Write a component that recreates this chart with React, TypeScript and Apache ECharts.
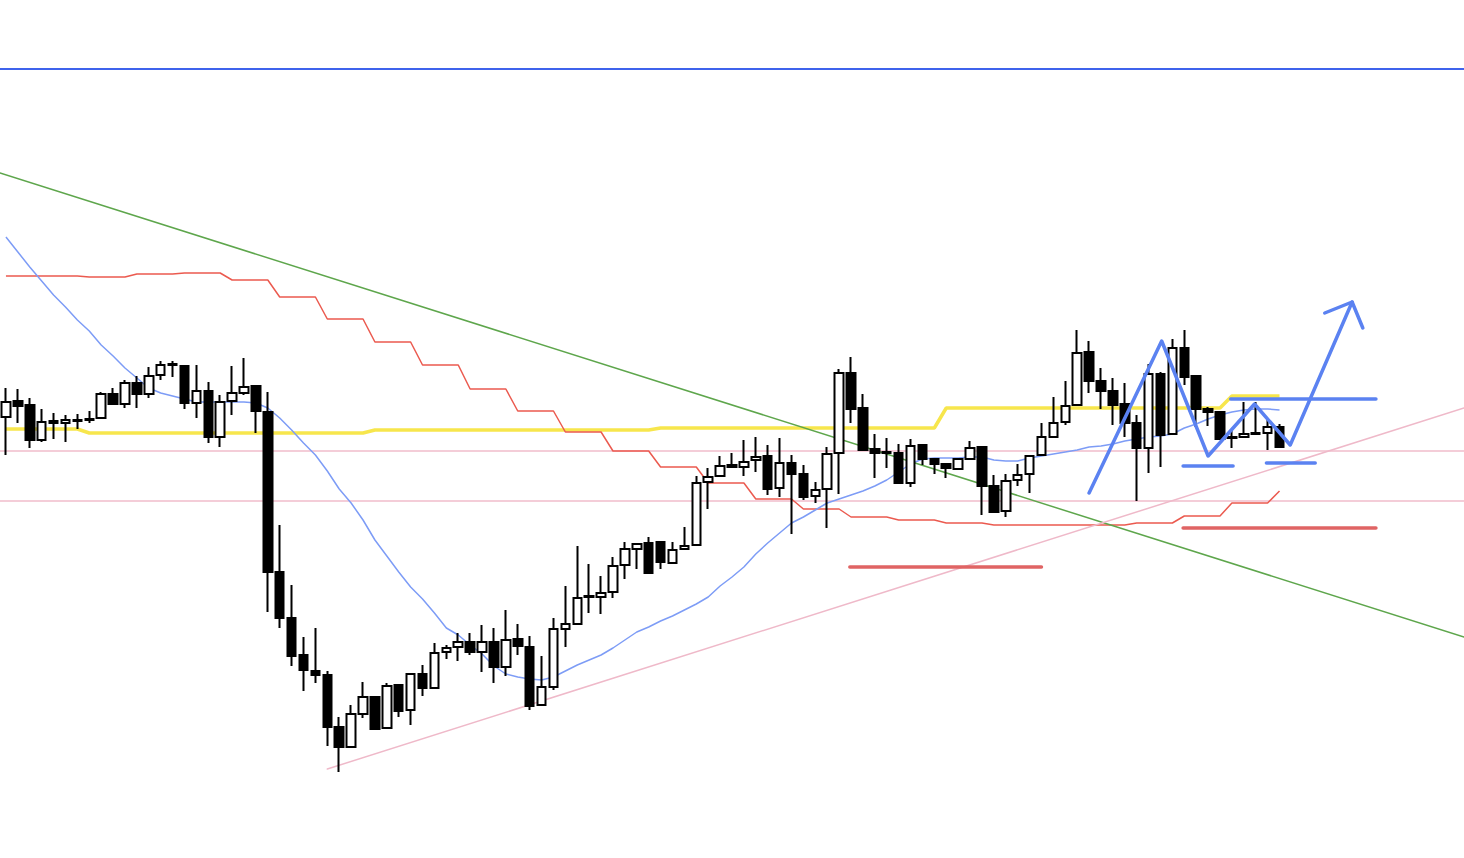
import React, { useEffect, useRef } from "react";
import * as echarts from "echarts";

// ---- Candles (price units) ----
const opens = [
  155.83, 155.99, 155.95, 155.60, 155.79, 155.77, 155.80, 155.81, 155.82, 156.06,
  155.96, 156.17, 156.06, 156.25, 156.36, 156.34, 155.97, 156.09, 155.63, 155.99,
  156.07, 156.14, 155.88, 154.28, 153.82, 153.45, 153.29, 153.25, 152.73, 152.53,
  152.86, 153.03, 152.72, 153.15, 152.90, 153.26, 153.12, 153.48, 153.53, 153.58,
  153.48, 153.58, 153.33, 153.61, 153.53, 152.95, 153.13, 153.71, 153.76, 154.03,
  154.03, 154.08, 154.35, 154.51, 154.57, 154.58, 154.37, 154.51, 154.55, 155.18,
  155.24, 155.35, 155.33, 155.40, 155.44, 155.12, 155.37, 155.26, 155.04, 155.11,
  155.47, 156.27, 155.92, 155.51, 155.48, 155.47, 155.17, 155.55, 155.41, 155.36,
  155.31, 155.41, 155.53, 155.14, 154.89, 155.20, 155.26, 155.45, 155.63, 155.78,
  155.95, 156.48, 156.19, 156.09, 155.96, 155.77, 155.52, 156.26, 155.66, 156.52,
  156.24, 155.91, 155.88, 155.63, 155.63, 155.67, 155.67, 155.73,
];
const closes = [
  155.98, 155.94, 155.60, 155.78, 155.77, 155.80, 155.79, 155.80, 156.06, 155.96,
  156.17, 156.06, 156.24, 156.35, 156.35, 155.97, 156.09, 155.63, 155.98, 156.07,
  156.13, 155.89, 154.28, 153.82, 153.44, 153.30, 153.25, 152.73, 152.53, 152.86,
  153.03, 152.71, 153.14, 152.89, 153.26, 153.12, 153.47, 153.52, 153.58, 153.48,
  153.58, 153.33, 153.60, 153.54, 152.94, 153.13, 153.71, 153.76, 154.02, 154.04,
  154.07, 154.34, 154.51, 154.56, 154.27, 154.38, 154.50, 154.54, 155.17, 155.23,
  155.34, 155.33, 155.38, 155.43, 155.11, 155.37, 155.26, 155.03, 155.10, 155.46,
  156.27, 155.91, 155.50, 155.47, 155.47, 155.17, 155.54, 155.41, 155.36, 155.32,
  155.41, 155.52, 155.14, 154.88, 155.19, 155.25, 155.44, 155.63, 155.77, 155.94,
  156.47, 156.19, 156.09, 155.95, 155.77, 155.52, 156.26, 155.65, 156.52, 156.23,
  155.91, 155.88, 155.61, 155.62, 155.66, 155.66, 155.73, 155.53,
];
const lows = [
  155.45, 155.77, 155.52, 155.58, 155.61, 155.58, 155.71, 155.77, 155.82, 155.96,
  155.92, 155.92, 156.02, 156.20, 156.23, 155.91, 155.82, 155.57, 155.53, 155.85,
  156.05, 155.67, 153.88, 153.72, 153.34, 153.09, 153.17, 152.54, 152.28, 152.53,
  152.82, 152.71, 152.72, 152.83, 152.75, 153.04, 153.12, 153.41, 153.39, 153.45,
  153.28, 153.17, 153.24, 153.45, 152.90, 152.94, 153.10, 153.53, 153.75, 153.87,
  153.86, 154.02, 154.21, 154.31, 154.27, 154.31, 154.37, 154.51, 154.54, 154.91,
  155.23, 155.33, 155.24, 155.28, 155.05, 155.03, 154.66, 155.00, 154.97, 154.72,
  155.06, 155.77, 155.49, 155.22, 155.32, 155.17, 155.13, 155.35, 155.26, 155.22,
  155.30, 155.40, 154.85, 154.87, 154.83, 155.14, 155.07, 155.45, 155.63, 155.75,
  155.95, 156.07, 155.91, 155.75, 155.63, 154.99, 155.27, 155.33, 155.65, 156.15,
  155.73, 155.74, 155.61, 155.52, 155.63, 155.65, 155.50, 155.53,
];
const highs = [
  156.12, 156.11, 156.02, 155.91, 155.87, 155.85, 155.86, 155.89, 156.08, 156.12,
  156.20, 156.24, 156.33, 156.39, 156.39, 156.35, 156.35, 156.18, 156.05, 156.34,
  156.42, 156.15, 156.08, 154.75, 154.15, 153.63, 153.72, 153.29, 152.83, 152.95,
  153.18, 153.03, 153.17, 153.16, 153.27, 153.35, 153.57, 153.55, 153.67, 153.67,
  153.75, 153.72, 153.90, 153.76, 153.64, 153.44, 153.82, 154.14, 154.54, 154.36,
  154.24, 154.43, 154.58, 154.57, 154.63, 154.58, 154.58, 154.73, 155.24, 155.32,
  155.44, 155.47, 155.60, 155.63, 155.55, 155.62, 155.45, 155.35, 155.18, 155.53,
  156.31, 156.43, 156.06, 155.66, 155.62, 155.56, 155.61, 155.55, 155.42, 155.37,
  155.42, 155.59, 155.53, 155.25, 155.26, 155.36, 155.44, 155.77, 156.03, 156.19,
  156.70, 156.59, 156.32, 156.22, 156.17, 155.85, 156.36, 156.28, 156.61, 156.70,
  156.24, 155.93, 155.88, 155.70, 155.98, 155.98, 155.81, 155.76,
];

// ---- Indicators ----
const movingAverage = [
  157.63, 157.48, 157.33, 157.19, 157.05, 156.93, 156.80, 156.69, 156.55, 156.44,
  156.32, 156.22, 156.12, 156.07, 156.04, 156.01, 155.98, 155.98, 155.98, 155.98,
  155.98, 155.97, 155.92, 155.82, 155.70, 155.57, 155.45, 155.29, 155.11, 154.97,
  154.80, 154.60, 154.44, 154.28, 154.13, 154.01, 153.87, 153.72, 153.65, 153.55,
  153.46, 153.34, 153.26, 153.23, 153.21, 153.20, 153.23, 153.29, 153.35, 153.40,
  153.45, 153.52, 153.60, 153.68, 153.73, 153.79, 153.84, 153.90, 153.96, 154.03,
  154.14, 154.23, 154.33, 154.46, 154.57, 154.67, 154.77, 154.83, 154.90, 154.97,
  155.01, 155.05, 155.09, 155.14, 155.20, 155.28, 155.36, 155.41, 155.42, 155.42,
  155.42, 155.43, 155.43, 155.40, 155.39, 155.39, 155.42, 155.44, 155.46, 155.48,
  155.50, 155.53, 155.54, 155.56, 155.59, 155.61, 155.63, 155.64, 155.66, 155.72,
  155.76, 155.81, 155.85, 155.88, 155.90, 155.91, 155.91, 155.90,
];
const baseLine = [
  157.24, 157.24, 157.24, 157.24, 157.24, 157.24, 157.24, 157.23, 157.23, 157.23,
  157.23, 157.26, 157.26, 157.26, 157.26, 157.27, 157.27, 157.27, 157.27, 157.20,
  157.20, 157.20, 157.20, 157.03, 157.03, 157.03, 157.03, 156.81, 156.81, 156.81,
  156.81, 156.58, 156.58, 156.58, 156.58, 156.35, 156.35, 156.35, 156.35, 156.11,
  156.11, 156.11, 156.11, 155.89, 155.89, 155.89, 155.89, 155.68, 155.68, 155.68,
  155.68, 155.49, 155.49, 155.49, 155.49, 155.33, 155.33, 155.33, 155.33, 155.17,
  155.17, 155.17, 155.17, 155.01, 155.01, 155.01, 155.01, 154.91, 154.91, 154.91,
  154.91, 154.83, 154.83, 154.83, 154.83, 154.80, 154.80, 154.80, 154.80, 154.77,
  154.77, 154.77, 154.77, 154.75, 154.75, 154.75, 154.75, 154.75, 154.75, 154.75,
  154.75, 154.75, 154.75, 154.75, 154.75, 154.77, 154.77, 154.77, 154.77, 154.84,
  154.84, 154.84, 154.84, 154.97, 154.97, 154.97, 154.97, 155.09,
];
const higherTfAverage = [
  155.71, 155.71, 155.71, 155.71, 155.71, 155.71, 155.71, 155.67, 155.67, 155.67,
  155.67, 155.67, 155.67, 155.67, 155.67, 155.67, 155.67, 155.67, 155.67, 155.67,
  155.67, 155.67, 155.67, 155.67, 155.67, 155.67, 155.67, 155.67, 155.67, 155.67,
  155.67, 155.70, 155.70, 155.70, 155.70, 155.70, 155.70, 155.70, 155.70, 155.70,
  155.70, 155.70, 155.70, 155.70, 155.70, 155.70, 155.70, 155.70, 155.70, 155.70,
  155.70, 155.70, 155.70, 155.70, 155.70, 155.72, 155.72, 155.72, 155.72, 155.72,
  155.72, 155.72, 155.72, 155.72, 155.72, 155.72, 155.72, 155.72, 155.72, 155.72,
  155.72, 155.72, 155.72, 155.72, 155.72, 155.72, 155.72, 155.72, 155.72, 155.92,
  155.92, 155.92, 155.92, 155.92, 155.92, 155.92, 155.92, 155.92, 155.92, 155.92,
  155.92, 155.92, 155.92, 155.92, 155.92, 155.92, 155.92, 155.92, 155.92, 155.92,
  155.92, 155.92, 155.92, 156.04, 156.04, 156.04, 156.04, 156.04,
];

// ---- Drawings: [bar index, price] ----
const topLevel = [[-0.5, 159.31], [122.5, 159.31]];
const greenTrend = [[-0.5, 158.27], [122.5, 153.63]];
const pinkTrend = [[27.0, 152.31], [122.5, 155.92]];
const pinkLevelUpper = [[-0.5, 155.49], [122.5, 155.49]];
const pinkLevelLower = [[-0.5, 154.99], [122.5, 154.99]];
const redLevelA = [[70.9, 154.33], [87.0, 154.33]];
const redLevelB = [[98.9, 154.72], [115.1, 154.72]];
const blueLevelTop = [[102.9, 156.01], [115.1, 156.01]];
const blueLevelLowA = [[98.9, 155.34], [103.1, 155.34]];
const blueLevelLowB = [[105.9, 155.37], [110.0, 155.37]];
const zigzag = [[91.0, 155.07], [97.1, 156.59], [101.0, 155.44], [104.9, 155.96], [107.9, 155.55], [113.1, 156.98]];
const arrowHead = [[110.8, 156.87], [113.1, 156.98], [114.0, 156.72]];

const TOTAL_SLOTS = 123;
const categories = Array.from({ length: TOTAL_SLOTS }, (_, i) => String(i));

export default function App() {
  const ref = useRef<HTMLDivElement>(null);
  useEffect(() => {
    if (!ref.current) return;
    const chart = echarts.init(ref.current, undefined, { renderer: "svg" });
    const candles = opens.map((o, i) => [o, closes[i], lows[i], highs[i]]);
    const seg = (data: number[][], color: string, width: number, z = 2) => ({
      type: "line",
      xAxisIndex: 1,
      yAxisIndex: 0,
      data,
      symbol: "none",
      silent: true,
      z,
      lineStyle: { color, width, cap: "round", join: "round" },
    });
    const ind = (data: number[], color: string, width: number) => ({
      type: "line",
      xAxisIndex: 0,
      yAxisIndex: 0,
      data,
      symbol: "none",
      silent: true,
      z: 2,
      lineStyle: { color, width },
    });
    chart.setOption({
      animation: false,
      backgroundColor: "#ffffff",
      grid: { left: -3, right: -3, top: 0, bottom: 0 },
      xAxis: [
        { type: "category", data: categories, boundaryGap: true, show: false },
        { type: "value", min: -0.5, max: 122.5, show: false },
      ],
      yAxis: [{ type: "value", min: 151.42, max: 160, show: false, scale: true }],
      series: [
        seg(topLevel, "#3f63ec", 2),
        seg(pinkLevelUpper, "#f1bccb", 1.5),
        seg(pinkLevelLower, "#f1bccb", 1.5),
        ind(higherTfAverage, "#f7e64c", 3.5),
        ind(baseLine, "#eb5a4f", 1.5),
        ind(movingAverage, "#7d9cf6", 1.5),
        seg(greenTrend, "#5ea64c", 1.5),
        seg(pinkTrend, "#efb9c9", 1.5),
        {
          type: "candlestick",
          xAxisIndex: 0,
          yAxisIndex: 0,
          data: candles,
          barWidth: 9,
          z: 3,
          itemStyle: {
            color: "#ffffff",
            color0: "#000000",
            borderColor: "#000000",
            borderColor0: "#000000",
            borderWidth: 2,
          },
        },
        seg(redLevelA, "#e06464", 3.5, 5),
        seg(redLevelB, "#e06464", 3.5, 5),
        seg(blueLevelTop, "#5b82f1", 3.5, 5),
        seg(blueLevelLowA, "#5b82f1", 3.5, 5),
        seg(blueLevelLowB, "#5b82f1", 3.5, 5),
        seg(zigzag, "#5b82f1", 3.5, 5),
        seg(arrowHead, "#5b82f1", 3.5, 5),
      ],
    });
    return () => chart.dispose();
  }, []);
  return (
    <div
      ref={ref}
      style={{ position: "fixed", left: 0, top: 0, width: 1464, height: 858, background: "#fff" }}
    />
  );
}
